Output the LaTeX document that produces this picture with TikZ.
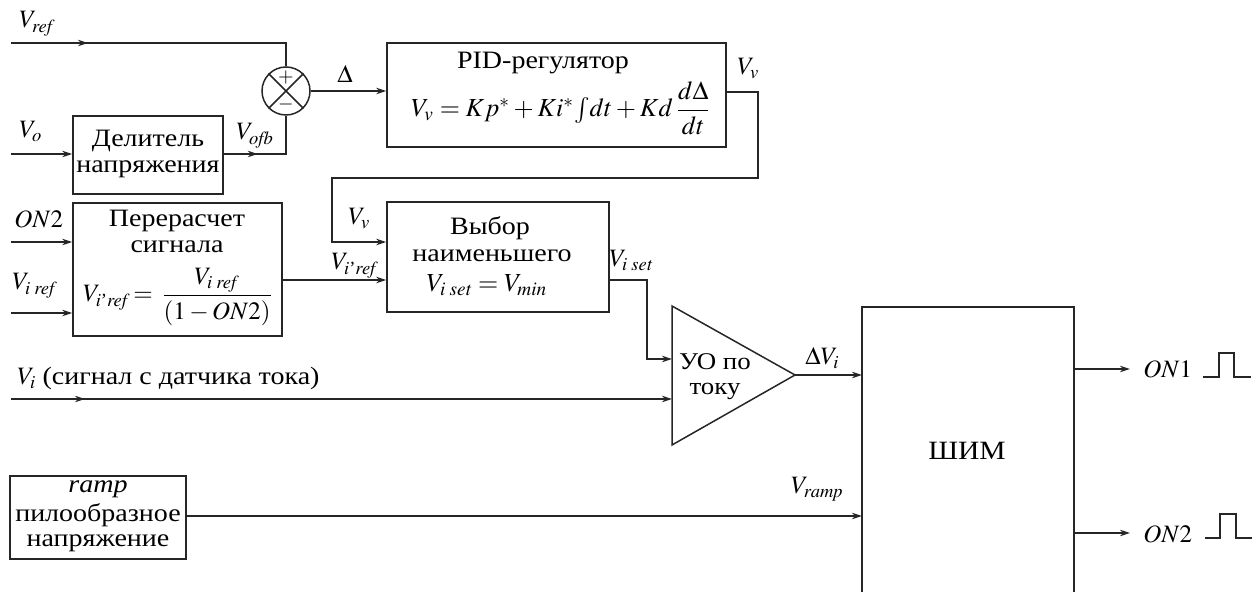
\documentclass[tikz,border=0pt]{standalone}
\usepackage{amsmath}
\usepackage{mathptmx}
\usepackage{fontspec}
\setmainfont{Liberation Serif}
\newfontfamily\ser{Liberation Serif}[FakeStretch=1.12]
\usetikzlibrary{arrows.meta,decorations.markings}
\tikzset{
  x=0.5pt, y=-0.5pt,
  ln/.style={line width=0.75pt, draw=black!85},
  tipA/.tip={Stealth[length=5pt,width=3.2pt,inset=1.5pt]},
  arr/.style={ln, -tipA},
  blk/.style={ln, rectangle, inner sep=0pt},
  txt/.style={inner sep=0pt, font=\ser\fontsize{12.5}{14}\selectfont},
  mth/.style={inner sep=0pt, font=\fontsize{12.5}{14}\selectfont},
  lbl/.style={mth, anchor=base west},
  ctr/.style={txt, anchor=base},
  ctrm/.style={mth, anchor=base},
  midarr/.style={postaction={decorate}, decoration={markings, mark=at position #1 with {\arrow{tipA}}}},
}
\begin{document}
\begin{tikzpicture}
\useasboundingbox (0,0) rectangle (1258,592);
% blocks
\node[blk, draw, circle, minimum size=24pt] (sum) at (286,91) {};
\draw[ln] (sum.45) -- (sum.225) (sum.135) -- (sum.315);
\node[mth, font=\fontsize{10}{10}\selectfont] (plus) at (286,78) {$+$};
\node[mth, font=\fontsize{10}{10}\selectfont] (minus) at (286,105) {$-$};
\node[blk, draw, minimum width=75pt, minimum height=39pt] (del) at (148,155) {};
\node[blk, draw, minimum width=169.5pt, minimum height=52pt] (pid) at (556.5,95) {};
\node[blk, draw, minimum width=104.5pt, minimum height=66.5pt] (per) at (177.5,269.5) {};
\node[blk, draw, minimum width=111pt, minimum height=55pt] (vyb) at (498,257) {};
\node[blk, draw, minimum width=88pt, minimum height=41.5pt] (ramp) at (98,517.5) {};
\coordinate (trt) at (672,306);
\coordinate (trb) at (672,445);
\coordinate (tra) at (795,375);
\draw[ln] (trt) -- (trb) -- (tra) -- cycle;
\coordinate (shbl) at (862,600);
\coordinate (shtl) at (862,307);
\coordinate (shtr) at (1074,307);
\coordinate (shbr) at (1074,600);
\draw[ln] (shbl) -- (shtl) -- (shtr) -- (shbr);
% block texts
\node[ctr] (delt1) at (148,147) {Делитель};
\node[ctr] (delt2) at (148,173) {напряжения};
\node[ctr] (pidt) at (543,69) {PID-регулятор};
\node[ctrm, font=\fontsize{13}{15}\selectfont] (pidf) at (561,117) {$V_v = Kp^{*} + Ki^{*}\!\int\! dt + Kd\,\dfrac{d\Delta}{dt}$};
\node[ctr] (pert1) at (177,227) {Перерасчет};
\node[ctr] (pert2) at (177,253) {сигнала};
\node[ctrm, font=\fontsize{12.5}{15}\selectfont] (perf) at (178,302) {$V_{i\text{'}\mathit{ref}}\!=\, \dfrac{V_{i\;\mathit{ref}}}{(1-ON2)}$};
\node[ctr] (vybt1) at (490,235) {Выбор};
\node[ctr] (vybt2) at (492,262) {наименьшего};
\node[ctrm, font=\fontsize{13}{15}\selectfont] (vybf) at (487,292) {$V_{i\;\mathit{set}} = V_{\mathit{min}}$};
\node[ctr, font=\ser\fontsize{12}{14}\selectfont] (uot1) at (715,370) {УО по};
\node[ctr, font=\ser\fontsize{12}{14}\selectfont] (uot2) at (715,395) {току};
\node[ctr, font=\ser\fontsize{13.2}{16}\selectfont] (shim) at (967,460) {ШИМ};
\node[ctr] (rampt1) at (98,493) {\textit{ramp}};
\node[ctr] (rampt2) at (98,522) {пилообразное};
\node[ctr] (rampt3) at (98,547) {напряжение};
% signal labels
\node[lbl] (lvref) at (19,28) {$V_{\mathit{ref}}$};
\node[ctrm] (ldelta) at (345,83) {$\Delta$};
\node[lbl] (lvo) at (19,138) {$V_o$};
\node[lbl] (lvofb) at (236,140) {$V_{\mathit{ofb}}$};
\node[lbl] (lvv1) at (737,75) {$V_v$};
\node[lbl] (lon2l) at (14,228) {$ON2$};
\node[lbl] (lviref) at (12,290) {$V_{i\;\mathit{ref}}$};
\node[lbl] (lvv2) at (348,225) {$V_v$};
\node[lbl] (lvipref) at (331,270) {$V_{i\text{'}\mathit{ref}}$};
\node[lbl] (lviset) at (609,267) {$V_{i\;\mathit{set}}$};
\node[lbl] (ldvi) at (805,365) {$\Delta V_i$};
\node[lbl] (lvi) at (17,385) {$V_i$ {\ser (сигнал с датчика тока)}};
\node[mth, anchor=base east] (lvramp) at (844,494) {$V_{\mathit{ramp}}$};
\node[lbl] (lon1) at (1143,378) {$ON1$};
\node[lbl] (lon2r) at (1143,543) {$ON2$};
% input coordinates
\coordinate (vrefin) at (11,43);
\coordinate (voin) at (11,154);
\coordinate (on2in) at (11,242);
\coordinate (virefin) at (11,313);
\coordinate (viin) at (11,399);
% connectors
\draw[ln, midarr=38.5pt] (vrefin) -- (vrefin -| sum.north) -- (sum.north);
\draw[arr] (voin) -- (voin -| del.west);
\draw[ln, midarr=17pt] (voin -| del.east) -- (voin -| sum.south) -- (sum.south);
\draw[arr] (sum.east) -- (sum.east -| pid.west);
\coordinate (pidout) at (726,92);
\coordinate (c1) at (758,92);
\coordinate (c2) at (758,178);
\coordinate (c3) at (332,178);
\coordinate (c4) at (332,242);
\draw[arr] (pidout) -- (c1) -- (c2) -- (c3) -- (c4) -- (c4 -| vyb.west);
\draw[arr] (on2in) -- (on2in -| per.west);
\draw[arr] (virefin) -- (virefin -| per.west);
\coordinate (perout) at (282,280);
\draw[arr] (perout) -- (perout -| vyb.west);
\coordinate (vybout) at (609,280);
\coordinate (d1) at (647,280);
\coordinate (d2) at (647,359);
\draw[arr] (vybout) -- (d1) -- (d2) -- (d2 -| trt);
\draw[arr, midarr=37pt] (viin) -- (viin -| trt);
\draw[arr] (tra) -- (tra -| shtl);
\coordinate (rampout) at (186,516);
\draw[arr] (rampout) -- (rampout -| shtl);
\coordinate (on1o) at (1074,369);
\coordinate (on1e) at (1130,369);
\draw[arr] (on1o) -- (on1e);
\coordinate (on2o) at (1074,533);
\coordinate (on2e) at (1130,533);
\draw[arr] (on2o) -- (on2e);
% pulses
\draw[ln] (1203,377) -- (1219,377) -- (1219,353) -- (1234,353) -- (1234,377) -- (1251,377);
\draw[ln] (1205,538) -- (1220,538) -- (1220,514) -- (1236,514) -- (1236,538) -- (1252,538);
\end{tikzpicture}
\end{document}
